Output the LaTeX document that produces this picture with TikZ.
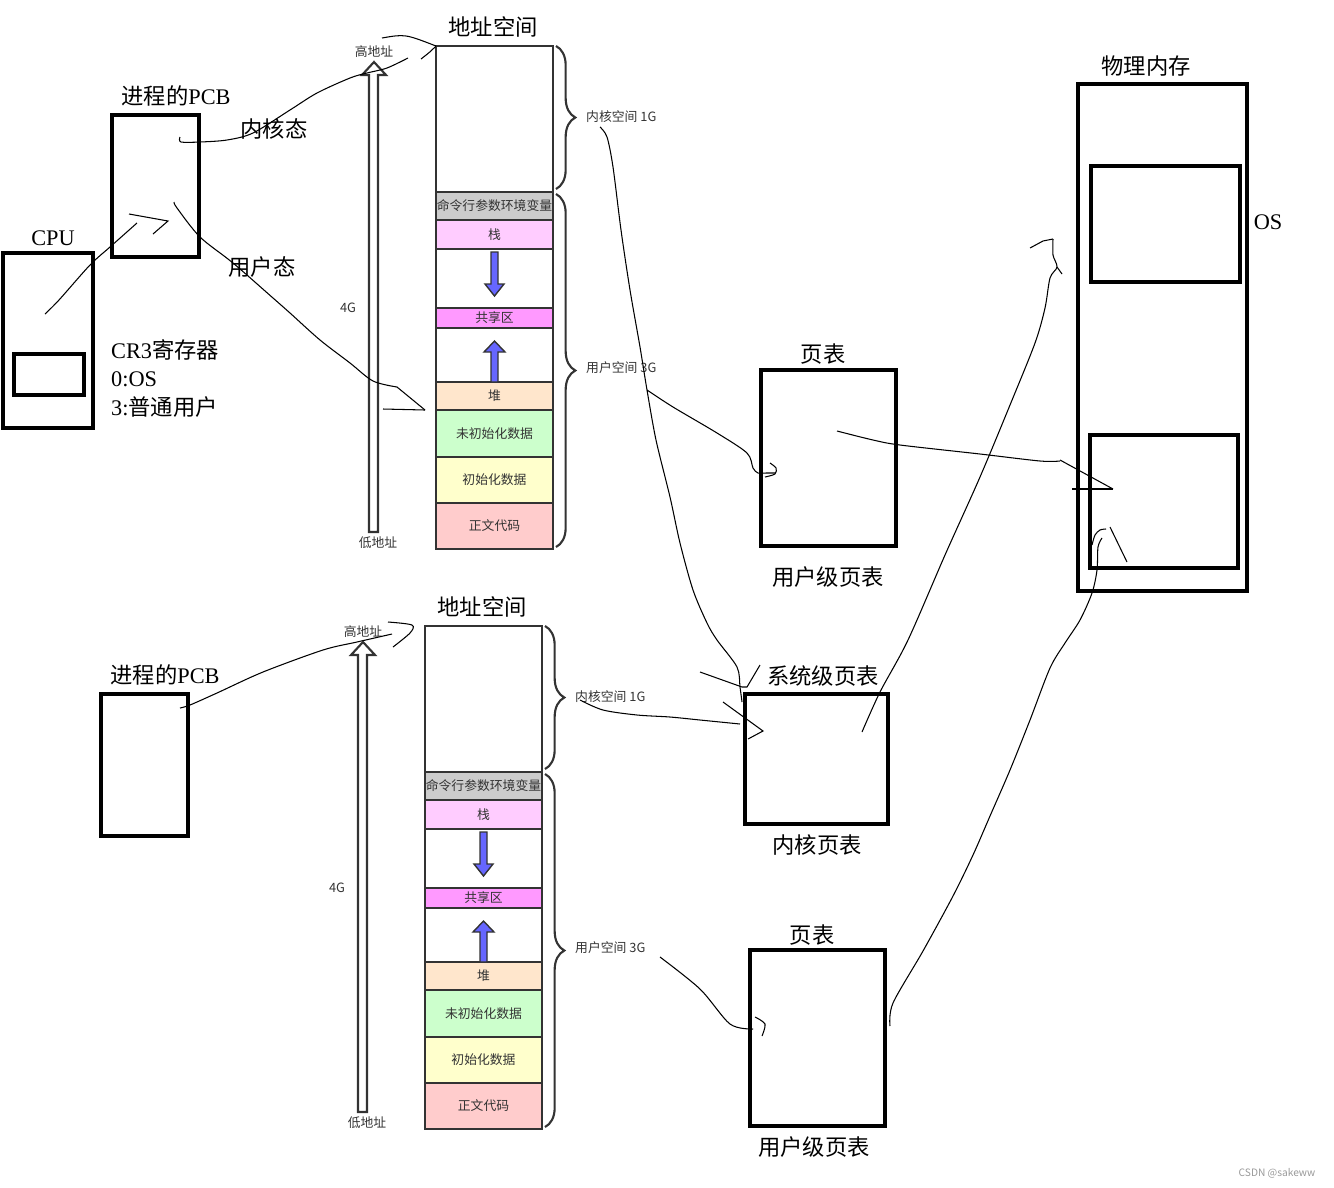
\documentclass[tikz,border=0pt]{standalone}
\usepackage{fontspec}
\setmainfont{Liberation Serif}
\newfontfamily\cjk{Noto Sans CJK SC}
\usepackage{xcolor}
\usepackage{tikz}
\usetikzlibrary{decorations.pathreplacing}

\newlength{\pxl}
\setlength{\pxl}{0.02cm}
\newcommand{\bigfont}{\fontsize{12.7}{14}\selectfont}

\definecolor{segline}{HTML}{333333}
\definecolor{txt}{HTML}{333333}
\definecolor{cGrey}{HTML}{CCCCCC}
\definecolor{cStack}{HTML}{FFCCFF}
\definecolor{cShared}{HTML}{FF99FF}
\definecolor{cHeap}{HTML}{FFE6CC}
\definecolor{cBss}{HTML}{CCFFCC}
\definecolor{cData}{HTML}{FFFFCC}
\definecolor{cCode}{HTML}{FFCCCC}
\definecolor{arrblue}{HTML}{6666FF}

\tikzset{
  bigbox/.style={draw, line width=2.8pt, inner sep=0pt, outer sep=0pt},
  hand/.style={line width=0.6pt},
  big/.style={font=\bigfont},
  small/.style={font=\cjk\fontsize{7.3}{9}\selectfont, text=txt},
  seg/.style={draw=segline, line width=1.2pt, minimum width=117\pxl, anchor=north west,
    inner sep=0pt, outer sep=0pt, font=\cjk\fontsize{7.3}{9}\selectfont, text=txt},
  brace/.style={decorate, decoration={brace, amplitude=11pt}, draw=segline, line width=1.2pt},
  hollow/.style={draw=segline, line width=1.2pt, fill=white},
  bluearrow/.style={draw=segline, line width=0.8pt, fill=arrblue}
}

% one address space column, drawn twice
\newcommand{\addrspace}{%
  \node[big] (title) at (493,27) {\cjk 地址空间};
  \node[seg, minimum height=146\pxl] (kern) at (436,46) {};
  \node[seg, fill=cGrey, minimum height=28\pxl] (env) at (436,192) {命令行参数环境变量};
  \node[seg, fill=cStack, minimum height=29\pxl] (stack) at (436,220) {栈};
  \node[seg, minimum height=59\pxl] (gapa) at (436,249) {};
  \node[seg, fill=cShared, minimum height=20\pxl] (shared) at (436,308) {共享区};
  \node[seg, minimum height=54\pxl] (gapb) at (436,328) {};
  \node[seg, fill=cHeap, minimum height=28\pxl] (heap) at (436,382) {堆};
  \node[seg, fill=cBss, minimum height=47\pxl] (bss) at (436,410) {未初始化数据};
  \node[seg, fill=cData, minimum height=46\pxl] (data) at (436,457) {初始化数据};
  \node[seg, fill=cCode, minimum height=46\pxl] (code) at (436,503) {正文代码};
  \draw[bluearrow] (491,252) -- (491,284) -- (485,284) -- (494.5,296) -- (504,284) -- (498,284) -- (498,252) -- cycle;
  \draw[bluearrow] (491,382) -- (491,352) -- (484,352) -- (494.5,341) -- (505,352) -- (498,352) -- (498,382) -- cycle;
  \draw[brace] (556,46) -- (556,189);
  \draw[brace] (556,194) -- (556,547);
  \node[small, anchor=west] (klbl) at (580,117) {内核空间 1G};
  \node[small, anchor=west] (ulbl) at (580,368) {用户空间 3G};
  \draw[hollow] (369,532) -- (369,75) -- (362,75) -- (374,62) -- (386,75) -- (378,75) -- (378,532) -- cycle;
  \node[small] (hi) at (374,52) {高地址};
  \node[small] (lo) at (378,543) {低地址};
  \node[small] (size) at (348,308) {4G};
}

\begin{document}
\begin{tikzpicture}[x=0.02cm, y=-0.02cm]
    \useasboundingbox (0,0) rectangle (1334,1187);

    % cpu and the two PCBs
    \node[bigbox, minimum width=90\pxl, minimum height=175\pxl] (cpu) at (48,340.5) {};
    \node[bigbox, line width=2.4pt, minimum width=70\pxl, minimum height=41\pxl] (cr3) at (49,374.5) {};
    \node[big] (cpulbl) at (53,238) {CPU};
    \node[big, anchor=west] (cr3a) at (105,350) {CR3{\cjk 寄存器}};
    \node[big, anchor=west] (cr3b) at (105,379) {0:OS};
    \node[big, anchor=west] (cr3c) at (105,407) {3:{\cjk 普通用户}};
    \node[bigbox, minimum width=87\pxl, minimum height=142\pxl] (pcbA) at (155.5,186) {};
    \node[big] (pcbAlbl) at (176,96) {{\cjk 进程的}PCB};
    \node[big] (kmode) at (274,129) {\cjk 内核态};
    \node[big] (umode) at (262,267) {\cjk 用户态};
    \node[bigbox, minimum width=87\pxl, minimum height=142\pxl] (pcbB) at (144.5,765) {};
    \node[big] (pcbBlbl) at (165,675) {{\cjk 进程的}PCB};

    % the two address spaces
    \begin{scope}[name prefix=t-]
      \addrspace
    \end{scope}
    \begin{scope}[shift={(-11,580)}, name prefix=b-]
      \addrspace
    \end{scope}

    % page tables
    \node[bigbox, minimum width=135\pxl, minimum height=176\pxl] (ptA) at (828.5,458) {};
    \node[big] (ptAtop) at (823,354) {\cjk 页表};
    \node[big] (ptAbot) at (828,577) {\cjk 用户级页表};
    \node[bigbox, minimum width=143\pxl, minimum height=130\pxl] (ktab) at (816.5,759) {};
    \node[big] (ktabtop) at (823,676) {\cjk 系统级页表};
    \node[big] (ktabbot) at (817,845) {\cjk 内核页表};
    \node[bigbox, minimum width=135\pxl, minimum height=176\pxl] (ptB) at (817.5,1038) {};
    \node[big] (ptBtop) at (812,935) {\cjk 页表};
    \node[big] (ptBbot) at (814,1147) {\cjk 用户级页表};

    % physical memory
    \node[bigbox, line width=2.6pt, minimum width=169\pxl, minimum height=507\pxl] (mem) at (1162.5,337.5) {};
    \node[bigbox, line width=2.6pt, minimum width=149\pxl, minimum height=116\pxl] (osA) at (1165.5,224) {};
    \node[bigbox, line width=2.6pt, minimum width=148\pxl, minimum height=133\pxl] (usrA) at (1164,501.5) {};
    \node[big] (memlbl) at (1146,66) {\cjk 物理内存};
    \node[big] (oslbl) at (1268,222) {OS};

    % hand drawn strokes
    \coordinate (cpuIn) at (45,314);
    \coordinate (pcbIn) at (137,223);
    \draw[hand] plot[smooth] coordinates {(cpuIn) (59,300) (90,265) (110,247) (pcbIn)};
    \draw[hand] (129,214) -- (168,221) -- (153,234);

    \draw[hand] plot[smooth] coordinates {(180,137) (181,142) (200,142) (227,140) (253,133) (290,110) (317,93) (350,78) (367,73) (387,68) (408,58)};
    \draw[hand] (421,59) .. controls (430,52) .. (t-kern.north west);
    \draw[hand] (382,38) .. controls (405,34) .. (t-kern.north west);

    \coordinate (heapTip) at (425,410);
    \draw[hand] plot[smooth] coordinates {(174,202) (177,208) (200,237) (233,263) (273,298) (290,313) (320,340) (350,363) (373,381) (397,387)};
    \draw[hand] (397,387) -- (heapTip);
    \draw[hand] (383,409) -- (heapTip);

    \draw[hand] plot[smooth] coordinates {(600,127) (607,137) (613,167) (621,230) (630,290) (640,347) (647,390) (656,440) (670,497) (680,543) (693,590) (707,623) (717,640) (737,667) (740,687) (742,702)};
    \draw[hand] (700,672) -- (742,687) -- (747,687) -- (760,665);

    \draw[hand] plot[smooth] coordinates {(647,390) (673,407) (717,433) (747,453) (753,468) (758,473) (766,473) (775,473)};
    \draw[hand] plot[smooth] coordinates {(770,463) (776,468) (775,474) (765,477)};

    \coordinate (memTip) at (1113,489);
    \draw[hand] plot[smooth] coordinates {(837,431) (873,440) (900,445) (980,454) (1040,461) (1060,461)};
    \draw[hand] (1060,460) -- (memTip);
    \draw[hand] (1072,489) -- (memTip);

    \draw[hand] plot[smooth] coordinates {(862,732) (880,692) (908,640) (945,555) (980,477) (1010,405) (1035,343) (1045,308) (1050,278) (1057,267) (1053,255) (1053,239)};
    \draw[hand] (1053,239) -- (1043,241) -- (1030,248);
    \draw[hand] (1057,267) -- (1062,274);

    \draw[hand] plot[smooth] coordinates {(180,708) (190,705) (217,693) (263,672) (323,650) (357,642) (392,634)};
    \draw[hand] plot[smooth] coordinates {(388,622) (412,625) (410,633) (393,647)};

    \draw[hand] plot[smooth] coordinates {(580,700) (603,710) (637,715) (670,717) (700,720) (740,724)};
    \draw[hand] (723,702) -- (763,731) -- (748,739);

    \draw[hand] plot[smooth] coordinates {(660,957) (700,989) (730,1024) (753,1029)};
    \draw[hand] plot[smooth] coordinates {(755,1017) (765,1024) (762,1036)};

    \draw[hand] plot[smooth] coordinates {(890,1026) (893,1003) (923,951) (953,896) (973,855) (990,816) (1010,770) (1030,720) (1050,668) (1065,643) (1080,620) (1092,593) (1097,570) (1098,547) (1102,538)};
    \draw[hand] plot[smooth] coordinates {(1092,545) (1095,535) (1100,530) (1106,529)};
    \draw[hand] (1110,527) -- (1127,562);

    \node[font=\cjk\fontsize{5.8}{7}\selectfont, text=gray!80] (mark) at (1277,1173) {CSDN @sakeww};
\end{tikzpicture}
\end{document}
